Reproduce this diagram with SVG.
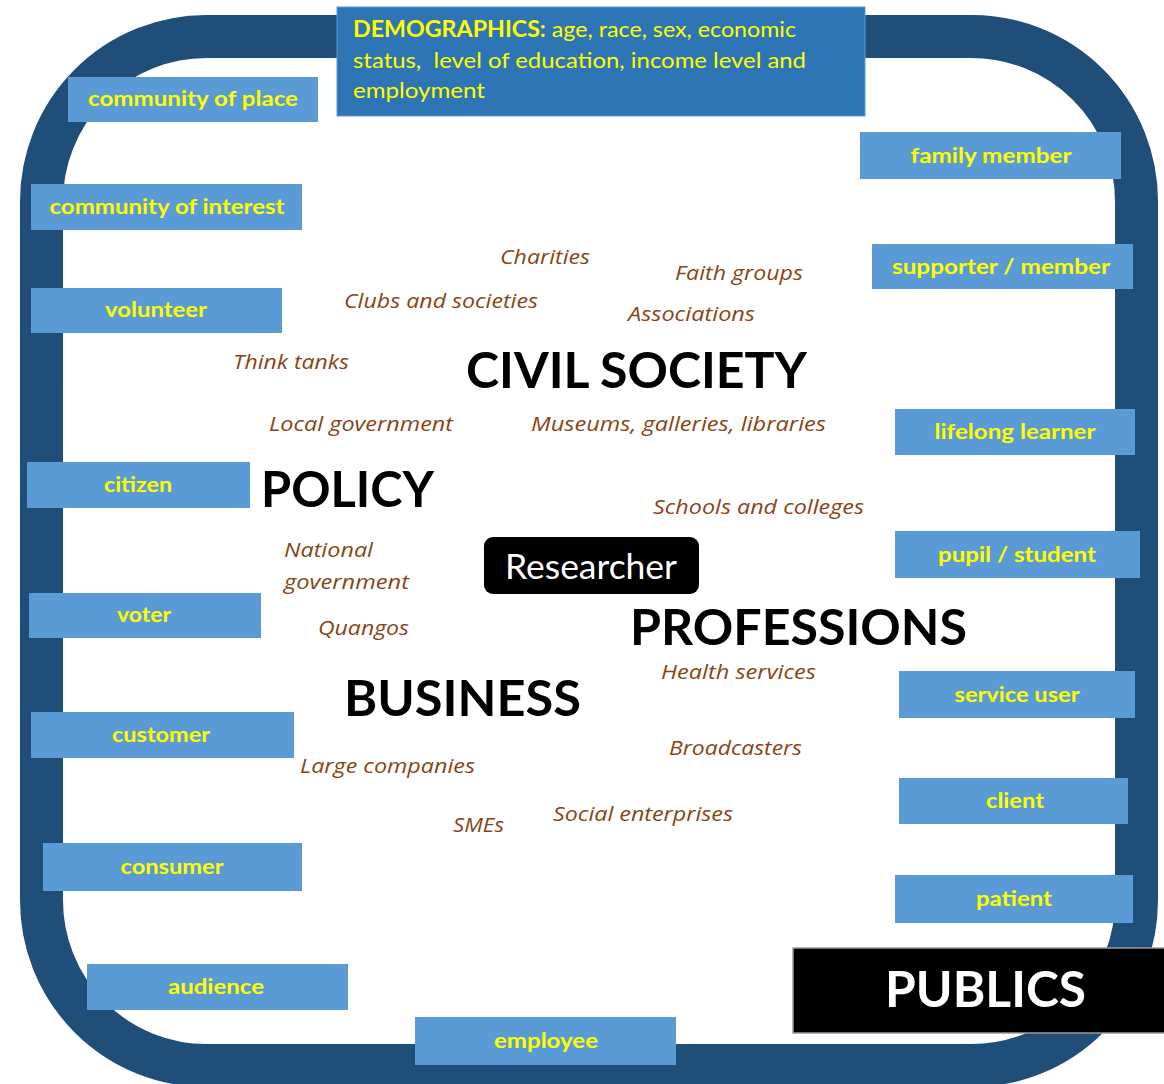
<svg xmlns="http://www.w3.org/2000/svg" width="1164" height="1084" viewBox="0 0 1164 1084">
<style>
.frame{fill:none;stroke:#1F4E79;stroke-width:43}
.box{fill:#5B9BD5}
.lbl{font-family:Lato,"Liberation Sans",sans-serif;font-weight:bold;font-size:21px;fill:#FFFF00;text-anchor:middle}
.org{font-family:"Open Sans","Liberation Sans",sans-serif;font-style:italic;font-size:20px;fill:#8A4416}
.big{font-family:Lato,"Liberation Sans",sans-serif;font-weight:bold;font-size:50px;fill:#000000}
.demo{font-family:Lato,"Liberation Sans",sans-serif;font-size:22px;fill:#FFFF00}
</style>
<rect class="frame" x="41.5" y="36.5" width="1095" height="1029" rx="165" ry="165"/>
<g id="demographics">
<rect x="337" y="7" width="528" height="109" fill="#2E75B6" stroke="#5B9BD5" stroke-width="1"/>
<text class="demo" x="353" y="37" textLength="443" lengthAdjust="spacingAndGlyphs"><tspan font-weight="bold">DEMOGRAPHICS:</tspan> age, race, sex, economic</text>
<text class="demo" x="353" y="68" textLength="453" lengthAdjust="spacingAndGlyphs">status,&#160; level of education, income level and</text>
<text class="demo" x="353" y="98" textLength="132" lengthAdjust="spacingAndGlyphs">employment</text>
</g>
<g id="n-community-place"><rect class="box" x="68" y="77" width="250" height="45"/><text class="lbl" x="193" y="106" textLength="210" lengthAdjust="spacingAndGlyphs">community of place</text></g>
<g id="n-community-interest"><rect class="box" x="31" y="184" width="271" height="46"/><text class="lbl" x="167" y="214" textLength="235" lengthAdjust="spacingAndGlyphs">community of interest</text></g>
<g id="n-volunteer"><rect class="box" x="31" y="288" width="251" height="45"/><text class="lbl" x="156" y="317" textLength="102" lengthAdjust="spacingAndGlyphs">volunteer</text></g>
<g id="n-citizen"><rect class="box" x="27" y="462" width="223" height="46"/><text class="lbl" x="138" y="492" textLength="68" lengthAdjust="spacingAndGlyphs">citizen</text></g>
<g id="n-voter"><rect class="box" x="29" y="593" width="232" height="45"/><text class="lbl" x="144" y="622" textLength="54" lengthAdjust="spacingAndGlyphs">voter</text></g>
<g id="n-customer"><rect class="box" x="31" y="712" width="263" height="46"/><text class="lbl" x="161" y="742" textLength="98" lengthAdjust="spacingAndGlyphs">customer</text></g>
<g id="n-consumer"><rect class="box" x="43" y="843" width="259" height="48"/><text class="lbl" x="172" y="874" textLength="103" lengthAdjust="spacingAndGlyphs">consumer</text></g>
<g id="n-audience"><rect class="box" x="87" y="964" width="261" height="46"/><text class="lbl" x="216" y="994" textLength="96" lengthAdjust="spacingAndGlyphs">audience</text></g>
<g id="n-employee"><rect class="box" x="415" y="1017" width="261" height="48"/><text class="lbl" x="546" y="1048" textLength="104" lengthAdjust="spacingAndGlyphs">employee</text></g>
<g id="n-family"><rect class="box" x="860" y="132" width="261" height="47"/><text class="lbl" x="991" y="163" textLength="161" lengthAdjust="spacingAndGlyphs">family member</text></g>
<g id="n-supporter"><rect class="box" x="872" y="244" width="261" height="45"/><text class="lbl" x="1001" y="274" textLength="218" lengthAdjust="spacingAndGlyphs">supporter / member</text></g>
<g id="n-lifelong"><rect class="box" x="895" y="409" width="240" height="46"/><text class="lbl" x="1015" y="439" textLength="161" lengthAdjust="spacingAndGlyphs">lifelong learner</text></g>
<g id="n-pupil"><rect class="box" x="895" y="531" width="245" height="47"/><text class="lbl" x="1017" y="562" textLength="158" lengthAdjust="spacingAndGlyphs">pupil / student</text></g>
<g id="n-service"><rect class="box" x="899" y="671" width="236" height="47"/><text class="lbl" x="1017" y="702" textLength="125" lengthAdjust="spacingAndGlyphs">service user</text></g>
<g id="n-client"><rect class="box" x="899" y="778" width="229" height="46"/><text class="lbl" x="1015" y="808" textLength="58" lengthAdjust="spacingAndGlyphs">client</text></g>
<g id="n-patient"><rect class="box" x="895" y="875" width="238" height="48"/><text class="lbl" x="1014" y="906" textLength="76" lengthAdjust="spacingAndGlyphs">patient</text></g>
<g id="sectors">
<text class="big" x="466" y="388" textLength="341" lengthAdjust="spacingAndGlyphs">CIVIL SOCIETY</text>
<text class="big" x="261" y="507" textLength="173" lengthAdjust="spacingAndGlyphs">POLICY</text>
<text class="big" x="630" y="645" textLength="337" lengthAdjust="spacingAndGlyphs">PROFESSIONS</text>
<text class="big" x="344" y="716" textLength="237" lengthAdjust="spacingAndGlyphs">BUSINESS</text>
</g>
<g id="organisations">
<text class="org" x="500" y="264" textLength="90" lengthAdjust="spacingAndGlyphs">Charities</text>
<text class="org" x="675" y="280" textLength="128" lengthAdjust="spacingAndGlyphs">Faith groups</text>
<text class="org" x="344" y="308" textLength="194" lengthAdjust="spacingAndGlyphs">Clubs and societies</text>
<text class="org" x="628" y="321" textLength="127" lengthAdjust="spacingAndGlyphs">Associations</text>
<text class="org" x="233" y="369" textLength="116" lengthAdjust="spacingAndGlyphs">Think tanks</text>
<text class="org" x="269" y="431" textLength="184" lengthAdjust="spacingAndGlyphs">Local government</text>
<text class="org" x="531" y="431" textLength="295" lengthAdjust="spacingAndGlyphs">Museums, galleries, libraries</text>
<text class="org" x="653" y="514" textLength="211" lengthAdjust="spacingAndGlyphs">Schools and colleges</text>
<text class="org" x="284" y="557" textLength="89" lengthAdjust="spacingAndGlyphs">National</text>
<text class="org" x="284" y="589" textLength="125" lengthAdjust="spacingAndGlyphs">government</text>
<text class="org" x="318" y="635" textLength="91" lengthAdjust="spacingAndGlyphs">Quangos</text>
<text class="org" x="661" y="679" textLength="155" lengthAdjust="spacingAndGlyphs">Health services</text>
<text class="org" x="669" y="755" textLength="133" lengthAdjust="spacingAndGlyphs">Broadcasters</text>
<text class="org" x="300" y="773" textLength="175" lengthAdjust="spacingAndGlyphs">Large companies</text>
<text class="org" x="453" y="832" textLength="51" lengthAdjust="spacingAndGlyphs">SMEs</text>
<text class="org" x="553" y="821" textLength="180" lengthAdjust="spacingAndGlyphs">Social enterprises</text>
</g>
<g id="n-researcher">
<rect x="484" y="537" width="215" height="57" rx="9" ry="9" fill="#000000"/>
<text x="591" y="579" text-anchor="middle" font-family="Lato,'Liberation Sans',sans-serif" font-size="34" fill="#FFFFFF" textLength="172" lengthAdjust="spacingAndGlyphs">Researcher</text>
</g>
<g id="n-publics">
<rect x="793" y="948" width="372" height="85" fill="#000000" stroke="#9A9A9A" stroke-width="1.5"/>
<text class="big" x="885" y="1007" style="fill:#FFFFFF" textLength="201" lengthAdjust="spacingAndGlyphs">PUBLICS</text>
</g>
</svg>
